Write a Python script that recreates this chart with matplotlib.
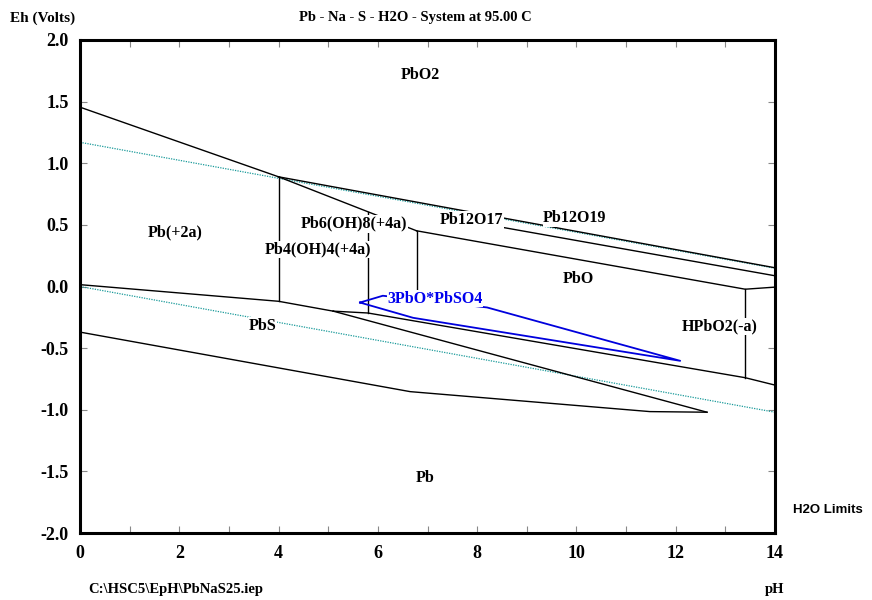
import matplotlib
matplotlib.use('Agg')
import matplotlib.pyplot as plt

SERIF = ['Liberation Serif', 'DejaVu Serif']
SANS = ['Liberation Sans', 'DejaVu Sans']

# ---- data (pH, Eh in volts) ----
title = "Pb - Na - S - H2O - System at 95.00 C"
x_ticks = [0, 2, 4, 6, 8, 10, 12, 14]
y_ticks = [-2.0, -1.5, -1.0, -0.5, 0.0, 0.5, 1.0, 1.5, 2.0]

# black phase boundaries
pbo2_pb2a_ph = [0.0, 4.0]
pbo2_pb2a_eh = [1.455, 0.89]
pbo2_top_ph = [4.0, 14.0]
pbo2_top_eh = [0.89, 0.152]
hydroxo_top_ph = [4.0, 6.78]
hydroxo_top_eh = [0.89, 0.452]
pbo_top_ph = [6.78, 13.4, 14.0]
pbo_top_eh = [0.452, -0.022, -0.005]
pb12_mid_ph = [7.25, 14.0]
pb12_mid_eh = [0.57, 0.087]
v_ph4_ph = [4.0, 4.0]
v_ph4_eh = [0.89, -0.12]
v_ph58_ph = [5.8, 5.8]
v_ph58_eh = [0.606, -0.215]
v_ph678_ph = [6.78, 6.78]
v_ph678_eh = [0.452, -0.03]
v_ph134_ph = [13.4, 13.4]
v_ph134_eh = [-0.022, -0.74]
pb2a_pbs_ph = [0.0, 4.0, 5.1]
pb2a_pbs_eh = [0.015, -0.12, -0.20]
pbs_pbo_ph = [5.1, 5.8, 13.4, 14.0]
pbs_pbo_eh = [-0.20, -0.215, -0.74, -0.80]
pbs_steep_ph = [5.1, 12.63]
pbs_steep_eh = [-0.20, -1.02]
pb_low_ph = [0.0, 6.65, 11.48, 12.63]
pb_low_eh = [-0.37, -0.853, -1.015, -1.02]

black_lines = [
    (pbo2_pb2a_ph, pbo2_pb2a_eh), (pbo2_top_ph, pbo2_top_eh),
    (hydroxo_top_ph, hydroxo_top_eh), (pbo_top_ph, pbo_top_eh),
    (pb12_mid_ph, pb12_mid_eh), (v_ph4_ph, v_ph4_eh),
    (v_ph58_ph, v_ph58_eh), (v_ph678_ph, v_ph678_eh),
    (v_ph134_ph, v_ph134_eh), (pb2a_pbs_ph, pb2a_pbs_eh),
    (pbs_pbo_ph, pbs_pbo_eh), (pbs_steep_ph, pbs_steep_eh),
    (pb_low_ph, pb_low_eh),
]

# blue 3PbO*PbSO4 wedge
sulfate_ph = [5.64, 6.1, 8.2, 12.09, 6.71, 5.64]
sulfate_eh = [-0.13, -0.075, -0.17, -0.603, -0.254, -0.13]

# water stability limits
h2o_ph = [0.0, 14.0]
o2_eh = [1.17, 0.148]
h2_eh = [0.0, -1.02]

# region labels
label_text = ["PbO2", "Pb(+2a)", "Pb6(OH)8(+4a)", "Pb4(OH)4(+4a)", "Pb12O17",
              "Pb12O19", "PbO", "PbS", "HPbO2(-a)", "Pb"]
label_ph = [6.85, 1.91, 5.52, 4.79, 7.88, 9.97, 10.03, 3.67, 12.89, 6.95]
label_eh = [1.717, 0.435, 0.508, 0.298, 0.54, 0.556, 0.062, -0.32, -0.327, -1.55]
blue_label = "3PbO*PbSO4"
blue_label_ph = 7.15
blue_label_eh = -0.10

# ---- figure ----
fig = plt.figure(figsize=(8.72, 6.0), dpi=100)
ax = fig.add_axes([80/872, 1-533/600, 695/872, 493/600])
ax.set_xlim(0, 14)
ax.set_ylim(-2, 2)

for xs, ys in black_lines:
    ax.plot(xs, ys, color='black', lw=1.0, zorder=3)

ax.plot(sulfate_ph, sulfate_eh, color='#0000dd', lw=1.3, zorder=3)

ax.plot(h2o_ph, o2_eh, color='#1a9a9a', lw=0.9, ls=(0, (1, 1)), zorder=2)
ax.plot(h2o_ph, h2_eh, color='#1a9a9a', lw=0.9, ls=(0, (1, 1)), zorder=2)

bbox = dict(facecolor='white', edgecolor='none', pad=0.5)
for t, px, py in zip(label_text, label_ph, label_eh):
    ax.text(px, py, t, ha='center', va='center', fontsize=11.5, fontweight='bold',
            family=SERIF, zorder=5, bbox=bbox)
ax.text(blue_label_ph, blue_label_eh, blue_label, ha='center', va='center',
        fontsize=11.5, fontweight='bold', family=SERIF, color='#0000ee',
        zorder=5, bbox=bbox)

# axes styling
for s in ax.spines.values():
    s.set_linewidth(2.2)
ax.set_xticks(x_ticks)
ax.set_xticks(range(0, 15), minor=True)
ax.set_yticks(y_ticks)
ax.set_xticklabels([str(v) for v in x_ticks])
ax.set_yticklabels([f"{v:.1f}" for v in y_ticks])
ax.tick_params(axis='both', which='both', direction='in', top=True, right=True,
               color='#888888', width=0.8)
ax.tick_params(axis='both', which='major', length=5)
ax.tick_params(axis='both', which='minor', length=5)
ax.tick_params(axis='x', pad=9)
ax.tick_params(axis='y', pad=8)
for lab in ax.get_xticklabels() + ax.get_yticklabels():
    lab.set_fontfamily(SERIF)
    lab.set_fontweight('bold')
    lab.set_fontsize(13)

fig.text(10/872, 1-18/600, "Eh (Volts)", ha='left', va='center', fontsize=11,
         fontweight='bold', family=SERIF)
fig.text(415/872, 1-18/600, title, ha='center', va='center', fontsize=10.5,
         fontweight='bold', family=SERIF)
fig.text(793/872, 1-510/600, "H2O Limits", ha='left', va='center', fontsize=9.5,
         fontweight='bold', family=SANS)
fig.text(88/872, 1-590/600, "C:\\HSC5\\EpH\\PbNaS25.iep", ha='left', va='center',
         fontsize=10.5, fontweight='bold', family=SERIF)
fig.text(775/872, 1-590/600, "pH", ha='center', va='center', fontsize=10.5,
         fontweight='bold', family=SERIF)

fig.savefig('out.png', dpi=100)
